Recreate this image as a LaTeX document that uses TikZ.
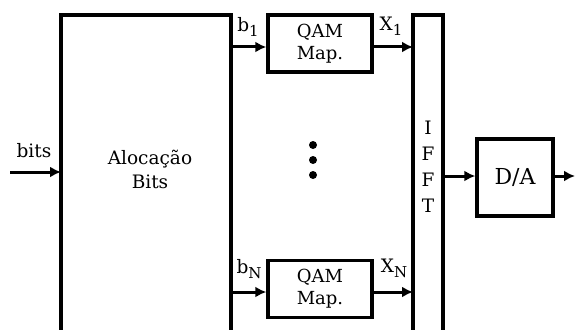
\documentclass[tikz,border=0pt]{standalone}
\usepackage{fontspec}
\setmainfont{DejaVu Serif}
\usetikzlibrary{arrows.meta}
\newcommand{\lowsub}[1]{\raisebox{-5pt}{\fontsize{15}{17}\selectfont #1}}
\begin{document}
\begin{tikzpicture}[x=1pt,y=-1pt,
  line/.style={line width=3.4pt},
  arr/.style={line width=3pt,-{Latex[length=11pt,width=11pt]}},
  lbl/.style={font=\fontsize{18.5}{20}\selectfont, inner sep=0pt},
  qam/.style={draw,line width=3.4pt,minimum width=104pt,minimum height=57pt,inner sep=0pt,align=center,font=\fontsize{18}{21}\selectfont}]
\useasboundingbox (0,0) rectangle (575,329);
% big allocation block (open at bottom)
\coordinate (A1) at (61,335);
\coordinate (A2) at (61,15);
\coordinate (A3) at (231,15);
\coordinate (A4) at (231,335);
\draw[line] (A1) -- (A2) -- (A3) -- (A4);
\node[lbl,align=center] (aloc) at (150,169) {Alocação\\[4pt]Bits};
% IFFT block
\coordinate (I1) at (413,335);
\coordinate (I2) at (413,15);
\coordinate (I3) at (443,15);
\coordinate (I4) at (443,335);
\draw[line] (I1) -- (I2) -- (I3) -- (I4);
\node[lbl,align=center] (ifft) at (428,167) {I\\[6pt]F\\[6pt]F\\[6pt]T};
% QAM boxes
\node[qam] (q1) at (320,43.5) {QAM\\[1pt]Map.};
\node[qam] (qN) at (320,289) {QAM\\[1pt]Map.};
% D/A
\node[draw,line width=3.4pt,minimum width=76pt,minimum height=77pt,font=\fontsize{22}{24}\selectfont] (da) at (515,177.5) {D/A};
% input
\coordinate (in) at (10,172);
\draw[arr] (in) -- (61,172);
\node[lbl] (bits) at (34,151) {bits};
% arrows
\coordinate (b1s) at (231,47);
\coordinate (bNs) at (231,292);
\draw[arr] (b1s) -- (q1.west |- b1s);
\draw[arr] (bNs) -- (qN.west |- bNs);
\coordinate (x1e) at (413,47);
\coordinate (xNe) at (413,292);
\draw[arr] (q1.east |- x1e) -- (x1e);
\draw[arr] (qN.east |- xNe) -- (xNe);
\coordinate (ifo) at (443,176);
\draw[arr] (ifo) -- (da.west |- ifo);
\coordinate (out) at (575,176);
\draw[arr] (da.east |- out) -- (out);
% labels
\node[lbl] (lb1) at (248,27) {b\lowsub{1}};
\node[lbl] (lbN) at (249,269) {b\lowsub{N}};
\node[lbl] (lx1) at (391,26) {X\lowsub{1}};
\node[lbl] (lxN) at (394,268) {X\lowsub{N}};
% dots
\fill (313,145) circle (4pt) (313,160) circle (4pt) (313,175) circle (4pt);
\end{tikzpicture}
\end{document}
